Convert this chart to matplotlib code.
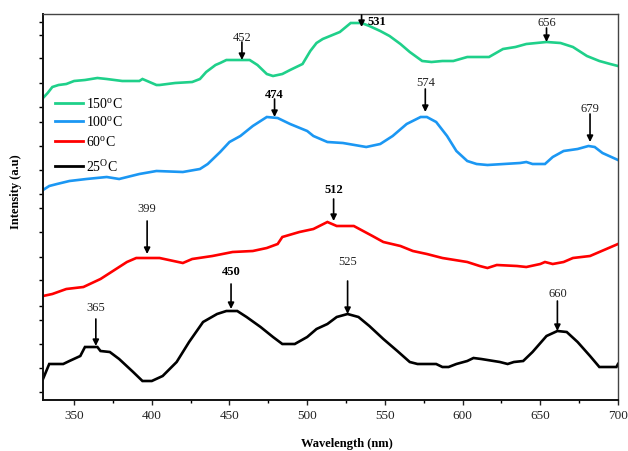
import matplotlib
matplotlib.use("Agg")
import matplotlib.pyplot as plt
from matplotlib.ticker import FixedLocator, MultipleLocator

plt.rcParams['font.family'] = ['Liberation Serif', 'DejaVu Serif']
plt.rcParams['mathtext.fontset'] = 'custom'
plt.rcParams['mathtext.rm'] = 'Liberation Serif'
plt.rcParams['mathtext.it'] = 'Liberation Serif:italic'
plt.rcParams['mathtext.bf'] = 'Liberation Serif:bold'

# ---- data (wavelength in nm, intensity in arbitrary stacked units) ----
wl_150 = [330, 333, 336, 340, 345, 350, 357, 365, 371, 381, 392, 394, 397, 403, 405, 415, 426, 431,
          435, 441, 444, 448, 463, 468, 474, 478, 484, 489, 497, 502, 506, 510, 521, 528, 535, 540,
          547, 553, 560, 566, 574, 580, 587, 594, 603, 617, 626, 634, 641, 654, 663, 671, 680, 688,
          695, 700]
int_150 = [302, 307, 313, 315, 316, 319, 320, 322, 321, 319, 319, 321, 319, 315, 315, 317, 318, 321,
           328, 335, 337, 340, 340, 335, 326, 324, 326, 330, 336, 349, 357, 361, 368, 377, 377, 374,
           369, 364, 356, 348, 339, 338, 339, 339, 343, 343, 351, 353, 356, 358, 357, 353, 344, 339,
           336, 334]

wl_100 = [330, 334, 339, 347, 358, 371, 379, 392, 403, 420, 431, 436, 444, 450, 457, 465, 474, 481,
          489, 500, 504, 513, 523, 538, 547, 555, 564, 573, 577, 583, 590, 596, 603, 609, 616, 637,
          641, 645, 653, 658, 665, 674, 681, 685, 690, 700]
int_100 = [210, 214, 216, 219, 221, 223, 221, 226, 229, 228, 231, 236, 248, 258, 264, 274, 283, 282,
           276, 269, 264, 258, 257, 253, 256, 264, 276, 283, 283, 278, 264, 249, 239, 236, 235, 237,
           238, 236, 236, 243, 249, 251, 254, 253, 247, 240]

wl_60 = [330, 336, 345, 356, 367, 375, 384, 390, 405, 414, 420, 426, 439, 452, 465, 474, 481, 484,
         495, 504, 513, 519, 530, 536, 542, 549, 560, 568, 577, 587, 603, 611, 616, 622, 635, 641,
         650, 653, 658, 665, 671, 682, 688, 700]
int_60 = [104, 106, 111, 113, 121, 129, 138, 142, 142, 139, 137, 141, 144, 148, 149, 152, 156, 163,
          168, 171, 178, 174, 174, 169, 164, 158, 154, 149, 146, 142, 138, 134, 132, 135, 134, 133,
          136, 138, 136, 138, 142, 144, 148, 156]

wl_25 = [330, 334, 343, 347, 354, 357, 365, 367, 373, 379, 388, 394, 400, 407, 416, 424, 433, 442,
         448, 455, 461, 470, 478, 484, 492, 500, 506, 513, 519, 526, 533, 540, 549, 558, 566, 571,
         583, 587, 591, 596, 603, 607, 612, 624, 629, 633, 639, 645, 654, 661, 667, 674, 682, 688,
         699, 700]
int_25 = [21, 36, 36, 39, 44, 53, 53, 49, 48, 41, 28, 19, 19, 24, 38, 58, 78, 86,
          89, 89, 83, 73, 63, 56, 56, 63, 71, 76, 83, 86, 83, 74, 61, 49, 38, 36,
          36, 33, 33, 36, 39, 42, 41, 38, 36, 38, 39, 48, 64, 69, 68, 58, 44, 33,
          33, 36]

series_labels = ['150$^{\\rm o}$C', '100$^{\\rm o}$C', '60$^{\\rm o}$C', '25$^{\\rm O}$C']
series_colors = ['#1fd08a', '#1b97f3', '#ff0000', '#000000']

# peak annotations: label text, arrow x (nm), arrow tail y, arrow tip y, label y, bold
peak_labels = ['452', '531', '656', '474', '574', '679', '399', '512', '365', '450', '525', '660']
peak_x = [458, 535, 654, 479, 576, 682, 397, 517, 364, 451, 526, 661]
peak_tail = [358, 385, 372, 301, 311, 286, 179, 201, 81, 116, 119, 99]
peak_tip = [340, 373, 358, 283, 288, 258, 146, 179, 54, 91, 86, 69]
peak_text_y = [363, 379, 378, 306, 318, 292, 192, 211, 93, 129, 139, 107]
peak_bold = [False, True, False, True, False, False, False, True, False, True, False, False]

left_ticks = [378, 365, 342, 317, 293, 278, 254, 230, 206, 192, 168, 143, 120, 94, 80, 56, 32, 8]

# ---- figure ----
fig = plt.figure(figsize=(6.28, 4.52), dpi=100)
ax = fig.add_axes([43 / 628, 1 - 401 / 452, (618 - 43) / 628, (401 - 15) / 452])

curves = [(wl_150, int_150), (wl_100, int_100), (wl_60, int_60), (wl_25, int_25)]
for (x, y), c in zip(curves, series_colors):
    ax.plot(x, y, color=c, lw=1.9, solid_joinstyle='miter')

ax.set_xlim(330, 700)
ax.set_ylim(0, 386)
ax.xaxis.set_major_locator(MultipleLocator(50))
ax.xaxis.set_minor_locator(MultipleLocator(25))
ax.yaxis.set_major_locator(FixedLocator(left_ticks))
ax.set_yticklabels([])
ax.tick_params(axis='x', which='major', direction='out', length=3.5, width=1.0,
               labelsize=9.5, pad=3, colors='#222222')
ax.tick_params(axis='x', which='minor', direction='out', length=2.5, width=1.0)
ax.tick_params(axis='y', which='major', direction='out', length=3, width=1.0)
for s in ax.spines.values():
    s.set_linewidth(1.0)
    s.set_color('#444444')
ax.spines['left'].set_color('#111111')
ax.spines['bottom'].set_color('#111111')
ax.spines['left'].set_linewidth(1.4)
ax.spines['bottom'].set_linewidth(1.4)

fig.text(347 / 628, 1 - 444 / 452, 'Wavelength (nm)', fontsize=9, fontweight='bold',
         ha='center', va='center')
fig.text(16 / 628, 1 - 192 / 452, 'Intensity (a.u)', rotation=90, fontsize=9,
         fontweight='bold', ha='center', va='center')

# peak arrows
for lab, px, ty, tp, ly, b in zip(peak_labels, peak_x, peak_tail, peak_tip, peak_text_y, peak_bold):
    ax.annotate('', xy=(px, tp), xytext=(px, ty),
                arrowprops=dict(arrowstyle='-|>', color='black', lw=1.2, mutation_scale=9,
                                shrinkA=0, shrinkB=0))
    if lab == '531':
        ax.text(px + 4, ly, lab, fontsize=9, fontweight='bold', ha='left', va='center')
    else:
        ax.text(px, ly, lab, fontsize=9, fontweight='bold' if b else 'normal',
                ha='center', va='center', color='#222222' if not b else 'black')

# manual legend
leg_y = [104, 122, 142, 167]
for lab, c, yy in zip(series_labels, series_colors, leg_y):
    ax.plot([338, 356], [401 - yy, 401 - yy], color=c, lw=2.0)
    ax.text(357.5, 401 - yy, lab, fontsize=10, ha='left', va='center')

fig.savefig('out.png', dpi=100)
